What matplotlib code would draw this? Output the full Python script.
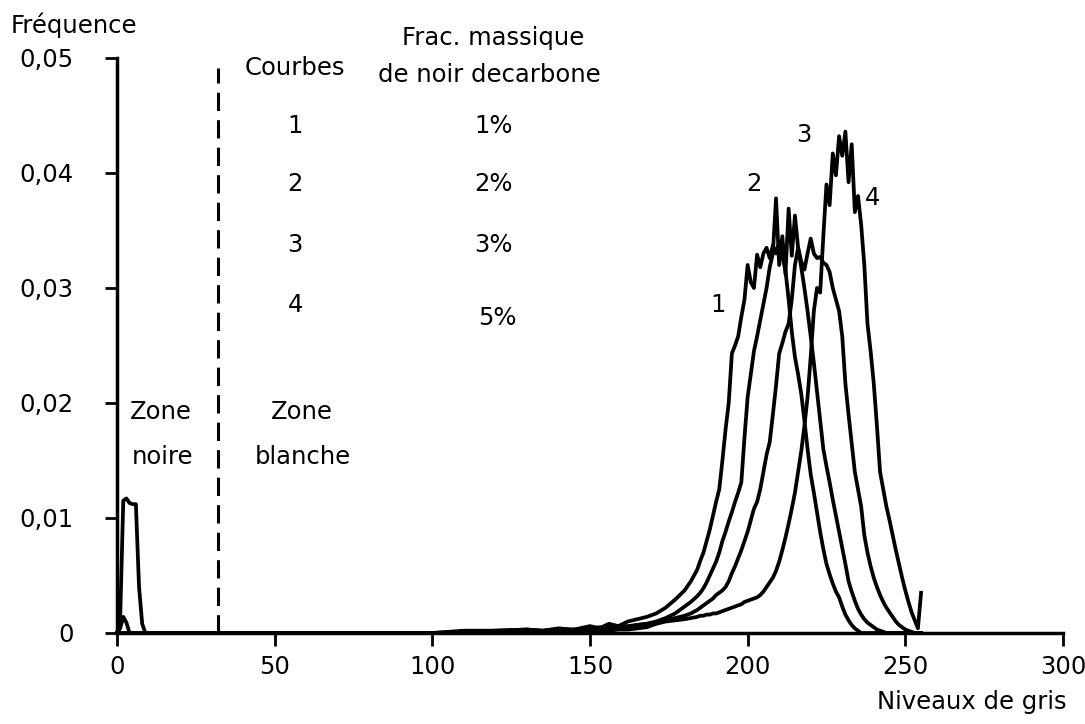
import matplotlib
matplotlib.use("Agg")
import matplotlib.pyplot as plt

# ---- data -------------------------------------------------------------
low_levels = [0, 1, 2, 3, 4, 5, 6, 7, 8, 9, 10, 100, 110, 120, 130, 135, 140, 145,
              150, 153, 156, 159, 162, 165, 168, 171, 174, 177, 180, 182, 184]
high_levels = list(range(185, 256))

c1_low = [0, 0, 0, 0, 0, 0, 0, 0, 0, 0, 0, 0, 0.0002, 0.0002, 0.0003, 0.0002, 0.0004, 0.0003,
          0.0006, 0.0004, 0.0008, 0.0006, 0.0010, 0.0012, 0.0014, 0.0017, 0.0022, 0.0029, 0.0037, 0.0045, 0.0055]
c1_high = [0.0063, 0.0070, 0.0080, 0.0090, 0.0102, 0.0114, 0.0125, 0.0150, 0.0177, 0.0200,
           0.0243, 0.0250, 0.0258, 0.0275, 0.0290, 0.0320, 0.0305, 0.0300, 0.0329, 0.0318,
           0.0330, 0.0335, 0.0326, 0.0337, 0.0330, 0.0340, 0.0328, 0.0315, 0.0290, 0.0262,
           0.0240, 0.0225, 0.0208, 0.0185, 0.0160, 0.0138, 0.0122, 0.0105, 0.0088, 0.0073,
           0.0060, 0.0051, 0.0043, 0.0036, 0.0031, 0.0023, 0.0016, 0.0011, 0.0007, 0.0004,
           0.0002, 0, 0, 0, 0, 0, 0, 0, 0, 0, 0, 0, 0, 0, 0, 0, 0, 0, 0, 0, 0]

c2_low = [0, 0, 0, 0, 0, 0, 0, 0, 0, 0, 0, 0, 0.0001, 0.0002, 0.0003, 0.0002, 0.0003, 0.0002,
          0.0004, 0.0005, 0.0005, 0.0006, 0.0006, 0.0007, 0.0008, 0.0010, 0.0013, 0.0017, 0.0023, 0.0027, 0.0032]
c2_high = [0.0035, 0.0039, 0.0044, 0.0050, 0.0056, 0.0062, 0.0070, 0.0080, 0.0088, 0.0097,
           0.0105, 0.0114, 0.0122, 0.0131, 0.0170, 0.0205, 0.0225, 0.0245, 0.0258, 0.0272,
           0.0286, 0.0300, 0.0318, 0.0330, 0.0378, 0.0320, 0.0345, 0.0312, 0.0369, 0.0328,
           0.0363, 0.0335, 0.0318, 0.0300, 0.0280, 0.0258, 0.0235, 0.0210, 0.0185, 0.0160,
           0.0145, 0.0131, 0.0116, 0.0102, 0.0088, 0.0074, 0.0060, 0.0045, 0.0036, 0.0028,
           0.0021, 0.0016, 0.0012, 0.0009, 0.0007, 0.0005, 0.0003, 0.0002, 0.0001,
           0, 0, 0, 0, 0, 0, 0, 0, 0, 0, 0, 0]

c3_low = [0, 0.0004, 0.0014, 0.0009, 0, 0, 0, 0, 0, 0, 0, 0, 0, 0.0001, 0.0002, 0.0001, 0.0002, 0.0003,
          0.0003, 0.0004, 0.0004, 0.0005, 0.0005, 0.0007, 0.0008, 0.0009, 0.0011, 0.0013, 0.0015, 0.0017, 0.0020]
c3_high = [0.0022, 0.0024, 0.0026, 0.0028, 0.0030, 0.0033, 0.0035, 0.0037, 0.0040, 0.0045,
           0.0052, 0.0058, 0.0065, 0.0072, 0.0080, 0.0088, 0.0098, 0.0108, 0.0114, 0.0125,
           0.0140, 0.0155, 0.0166, 0.0190, 0.0215, 0.0243, 0.0252, 0.0262, 0.0269, 0.0290,
           0.0320, 0.0335, 0.0323, 0.0316, 0.0330, 0.0343, 0.0330, 0.0326, 0.0327, 0.0322,
           0.0320, 0.0314, 0.0300, 0.0290, 0.0280, 0.0258, 0.0217, 0.0190, 0.0165, 0.0140,
           0.0125, 0.0110, 0.0085, 0.0070, 0.0058, 0.0048, 0.0040, 0.0033, 0.0027, 0.0022,
           0.0018, 0.0014, 0.0010, 0.0007, 0.0005, 0.0003, 0.0002, 0.0001, 0, 0, 0]

c4_low = [0, 0.0010, 0.0115, 0.0117, 0.0113, 0.0112, 0.0112, 0.0040, 0.0008, 0, 0, 0, 0, 0, 0, 0, 0, 0.0001,
          0.0001, 0.0002, 0.0002, 0.0003, 0.0003, 0.0004, 0.0005, 0.0008, 0.0010, 0.0011, 0.0012, 0.0013, 0.0014]
c4_high = [0.0015, 0.0015, 0.0016, 0.0016, 0.0017, 0.0017, 0.0018, 0.0019, 0.0020, 0.0021,
           0.0022, 0.0023, 0.0024, 0.0025, 0.0027, 0.0028, 0.0029, 0.0030, 0.0031, 0.0033,
           0.0036, 0.0040, 0.0044, 0.0048, 0.0054, 0.0062, 0.0072, 0.0083, 0.0095, 0.0108,
           0.0122, 0.0140, 0.0158, 0.0180, 0.0205, 0.0240, 0.0280, 0.0300, 0.0296, 0.0345,
           0.0390, 0.0372, 0.0417, 0.0398, 0.0432, 0.0415, 0.0436, 0.0392, 0.0425, 0.0366,
           0.0380, 0.0355, 0.0320, 0.0269, 0.0245, 0.0217, 0.0180, 0.0140, 0.0125, 0.0110,
           0.0098, 0.0085, 0.0072, 0.0060, 0.0048, 0.0037, 0.0027, 0.0018, 0.0011, 0.0004, 0.0035]

x_ticks = [0, 50, 100, 150, 200, 250, 300]
x_tick_labels = ["0", "50", "100", "150", "200", "250", "300"]
y_ticks = [0, 0.01, 0.02, 0.03, 0.04, 0.05]
y_tick_labels = ["0", "0,01", "0,02", "0,03", "0,04", "0,05"]

legend_ids = ["1", "2", "3", "4"]
legend_fracs = ["1%", "2%", "3%", "5%"]

# ---- figure -------------------------------------------------------------
plt.rcParams['font.family'] = ['DejaVu Sans']
FS = 17.5
fig = plt.figure(figsize=(10.85, 7.24), dpi=100)
ax = fig.add_axes([0.1078, 0.1257, 0.9797 - 0.1078, 0.9199 - 0.1257])

x_all = low_levels + high_levels
for lo, hi in [(c1_low, c1_high), (c2_low, c2_high), (c3_low, c3_high), (c4_low, c4_high)]:
    y = lo + hi
    assert len(y) == len(x_all)
    ax.plot(x_all, y, color='black', lw=2.7, clip_on=False, zorder=3)

ax.plot([32, 32], [0, 0.0491], color='black', lw=2.2, dashes=(6, 3))

ax.set_xlim(0, 300)
ax.set_ylim(0, 0.05)
ax.set_xticks(x_ticks)
ax.set_xticklabels(x_tick_labels, fontsize=FS)
ax.set_yticks(y_ticks)
ax.set_yticklabels(y_tick_labels, fontsize=FS)
ax.tick_params(axis='both', direction='out', length=9, width=2.0, color='black')
ax.tick_params(axis='x', pad=7)
ax.tick_params(axis='y', pad=22)
for s in ['top', 'right']:
    ax.spines[s].set_visible(False)
for s in ['left', 'bottom']:
    ax.spines[s].set_linewidth(2.5)

kw = dict(fontsize=FS, ha='center', va='center', clip_on=False)
ax.text(56.5, 0.0491, "Courbes", **kw)
ax.text(119.3, 0.0517, "Frac. massique", **kw)
ax.text(118.0, 0.0485, "de noir decarbone", **kw)
legend_y = [0.0441, 0.0390, 0.0337, 0.0285]
legend_fx = [119.3, 119.3, 119.3, 120.5]
legend_fy = [0.0441, 0.0390, 0.0337, 0.0274]
for i in range(4):
    ax.text(56.5, legend_y[i], legend_ids[i], **kw)
    ax.text(legend_fx[i], legend_fy[i], legend_fracs[i], **kw)

ax.text(13.8, 0.0192, "Zone", **kw)
ax.text(14.3, 0.0153, "noire", **kw)
ax.text(58.7, 0.0192, "Zone", **kw)
ax.text(59.0, 0.0153, "blanche", **kw)

ax.text(190.6, 0.0285, "1", **kw)
ax.text(202.0, 0.0390, "2", **kw)
ax.text(217.9, 0.0433, "3", **kw)
ax.text(239.5, 0.0378, "4", **kw)

fig.text(0.068, 0.9655, "Fréquence", fontsize=FS, ha='center', va='center')
fig.text(0.983, 0.0304, "Niveaux de gris", fontsize=FS, ha='right', va='center')

fig.savefig("out.png", dpi=100, facecolor='white')
